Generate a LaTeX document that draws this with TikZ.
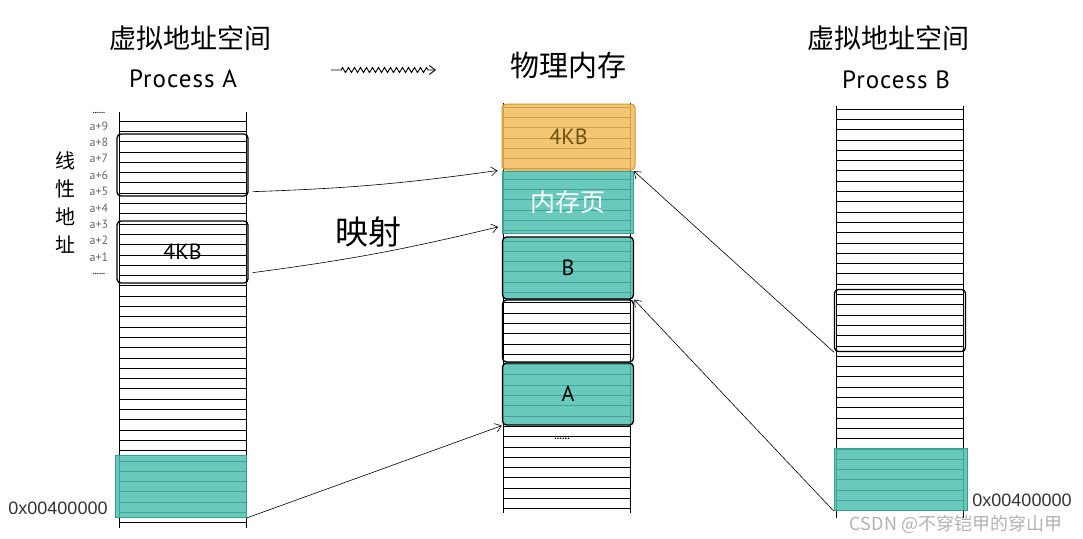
\documentclass[tikz,border=0pt]{standalone}
\usepackage{fontspec}
\setmainfont{PT Sans}
\newfontfamily\cjk{Noto Sans CJK SC}
\newfontfamily\hexfont{Liberation Sans}
\newfontfamily\procfont[LetterSpace=4]{PT Sans}
\usetikzlibrary{arrows.meta,positioning,calc,decorations.pathmorphing}
\definecolor{tealfill}{RGB}{78,192,176}
\definecolor{tealedge}{RGB}{52,160,144}
\definecolor{goldfill}{RGB}{242,188,92}
\definecolor{goldedge}{RGB}{214,150,40}
\definecolor{goldtext}{RGB}{110,80,20}
\begin{document}
\begin{tikzpicture}[x=1pt,y=-1pt,>={Straight Barb[length=6pt,width=9pt]},
 box/.style={draw,line width=1.3pt,rounded corners=4pt,minimum width=131pt,minimum height=62pt,inner sep=0pt},
 tealbox/.style={box,fill=tealfill,fill opacity=0.85,text opacity=1},
 plainteal/.style={tealbox,draw=tealedge,line width=0.8pt,rounded corners=0pt},
 goldbox/.style={box,draw=goldedge,fill=goldfill,fill opacity=0.85,text opacity=1,line width=1pt},
 title/.style={font=\cjk\fontsize{27}{30}\selectfont},
 proc/.style={font=\procfont\fontsize{25}{27}\selectfont},
 addr/.style={font=\fontsize{12}{13}\selectfont,text=black!60},
 hex/.style={font=\hexfont\fontsize{18}{20}\selectfont,text=black!80},
 blk/.style={font=\fontsize{22}{24}\selectfont},
 link/.style={->,line width=0.6pt}]
\useasboundingbox (0,0) rectangle (1083,538);
% columns with rows
\foreach \x/\t/\b/\s/\e in {119/112/528/121/523, 503/103/513/107/512, 836/106/518/109/517} {
  \draw[line width=0.8pt] (\x,\t) -- (\x,\b);
  \draw[line width=0.8pt] (\x+127,\t) -- (\x+127,\b);
  \foreach \y in {\s,\the\numexpr\s+10\relax.3,...,\e}
    \draw[line width=0.7pt] (\x,\y) -- (\x+127,\y);
}
% process A
\node[box] (la) at (182.5,165) {};
\node[box,blk] (lb) at (182.5,252) {4KB};
\node[plainteal] (lt) at (181,486.5) {};
% physical memory
\node[goldbox,blk,text=goldtext,minimum width=133pt,minimum height=66pt] (pk) at (568.5,137) {4KB};
\node[plainteal,font=\cjk\fontsize{25}{27}\selectfont,text=white] (pg) at (568,202.5) {内存页};
\node[tealbox,blk] (pb) at (568,268) {B};
\node[box] (pe) at (568,331) {};
\node[tealbox,blk] (pa) at (568,394) {A};
\node[font=\bfseries\fontsize{10}{10}\selectfont] (pd) at (562,439) {......};
% process B
\node[box] (rb) at (900,320.5) {};
\node[plainteal,minimum width=133pt] (rt) at (900.5,479.5) {};
% titles
\node[title] (ta) at (190,38) {虚拟地址空间};
\node[proc] (na) at (183,79) {Process A};
\node[title,font=\cjk\fontsize{29}{31}\selectfont] (tm) at (568,66) {物理内存};
\node[title] (tb) at (888,38) {虚拟地址空间};
\node[proc] (nb) at (896,80) {Process B};
\coordinate (s1) at (331,70);
\coordinate (s2) at (436,70);
\draw[->,line width=0.9pt,decorate,decoration={zigzag,amplitude=2.5pt,segment length=6pt,pre length=10pt,post length=6pt}] (s1) -- (s2);
% address labels
\node[align=center,font=\cjk\fontsize{20}{28}\selectfont] (lin) at (65,203) {线\\性\\地\\址};
\foreach \k in {1,...,9}
  \node[addr] (a\k) at (99,{257-(\k-1)*16.4}) {a+\k};
\node[font=\bfseries\fontsize{8}{8}\selectfont] (dt) at (99,113) {......};
\node[font=\bfseries\fontsize{8}{8}\selectfont] (db) at (99,274) {......};
\node[hex] (ha) at (58,508) {0x00400000};
\node[hex] (hb) at (1022,500) {0x00400000};
\node[font=\cjk\fontsize{33}{35}\selectfont] (map) at (368,232) {映射};
% mappings
\draw[link] ($(la.south east)+(4,-5)$) to[bend right=3] ($(pk.south west)+(-4,0)$);
\draw[link] ($(lb.south east)+(4,-11)$) to[bend right=3] ($(pg.south west)+(-4,-7)$);
\draw[link] (lt.south east) -- (pa.south west);
\draw[link] (rb.south west) -- (pg.north east);
\draw[link] (rt.south west) -- (pb.south east);
% watermark
\node[font=\cjk\fontsize{18}{19}\selectfont,text=black!30] (wm) at (956,524) {CSDN @不穿铠甲的穿山甲};
\end{tikzpicture}
\end{document}
